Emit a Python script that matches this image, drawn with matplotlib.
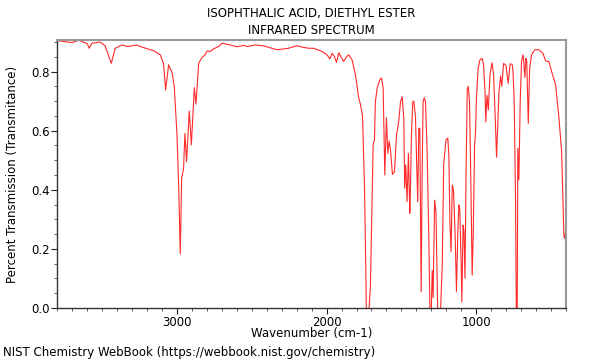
import matplotlib
matplotlib.use("Agg")
import matplotlib.pyplot as plt
from matplotlib.ticker import MultipleLocator, FormatStrFormatter

title_lines = ["ISOPHTHALIC ACID, DIETHYL ESTER", "INFRARED SPECTRUM"]
x_label = "Wavenumber (cm-1)"
y_label = "Percent Transmission (Transmitance)"
footer = "NIST Chemistry WebBook (https://webbook.nist.gov/chemistry)"

wavenumber = [
    3800, 3702, 3658, 3600, 3587, 3569, 3513, 3480, 3439, 3413, 3368, 3330, 3268, 3246,
    3179, 3157, 3112, 3090, 3076, 3056, 3033, 3018, 3000, 2989, 2978, 2969, 2956, 2947,
    2936, 2918, 2904, 2884, 2873, 2855, 2833, 2811, 2799, 2777, 2755, 2722, 2699, 2643,
    2599, 2554, 2532, 2476, 2421, 2331, 2254, 2197, 2164, 2120, 2086, 2030, 1997, 1979,
    1963, 1948, 1934, 1919, 1903, 1886, 1868, 1852, 1841, 1830, 1819, 1807, 1796, 1785,
    1774, 1760, 1747, 1738, 1734, 1718, 1707, 1696, 1689, 1680, 1674, 1662, 1645, 1633,
    1622, 1611, 1600, 1591, 1582, 1573, 1560, 1546, 1533, 1518, 1506, 1495, 1484, 1478,
    1471, 1462, 1453, 1444, 1440, 1433, 1424, 1417, 1406, 1397, 1391, 1384, 1377, 1368,
    1361, 1355, 1348, 1339, 1328, 1317, 1309, 1301, 1294, 1288, 1278, 1269, 1257, 1239,
    1227, 1217, 1201, 1190, 1183, 1176, 1168, 1160, 1152, 1141, 1132, 1123, 1116, 1110,
    1100, 1096, 1088, 1082, 1075, 1068, 1060, 1053, 1045, 1038, 1027, 1020, 1011, 1005,
    998, 987, 975, 961, 951, 941, 936, 928, 919, 908, 894, 884, 874, 864, 854, 848, 837,
    829, 817, 801, 786, 774, 760, 754, 746, 737, 732, 726, 722, 715, 706, 697, 688, 682,
    675, 668, 662, 652, 643, 630, 608, 581, 554, 536, 514, 496, 469, 447, 429, 414, 409,
    403,
]
transmittance = [
    0.905, 0.898, 0.906, 0.895, 0.879, 0.896, 0.900, 0.887, 0.828, 0.879, 0.890, 0.885, 0.890, 0.885,
    0.874, 0.871, 0.857, 0.828, 0.738, 0.823, 0.797, 0.749, 0.585, 0.416, 0.182, 0.439, 0.472, 0.591,
    0.495, 0.667, 0.552, 0.746, 0.690, 0.828, 0.848, 0.857, 0.870, 0.868, 0.877, 0.885, 0.896, 0.890,
    0.884, 0.889, 0.885, 0.890, 0.887, 0.874, 0.879, 0.888, 0.883, 0.879, 0.879, 0.868, 0.857, 0.843,
    0.862, 0.851, 0.831, 0.864, 0.849, 0.834, 0.849, 0.857, 0.848, 0.840, 0.815, 0.789, 0.750, 0.710,
    0.690, 0.650, 0.416, 0.134, -0.02, -0.02, 0.077, 0.360, 0.552, 0.568, 0.698, 0.744, 0.772, 0.778,
    0.744, 0.450, 0.644, 0.523, 0.565, 0.535, 0.452, 0.461, 0.585, 0.630, 0.698, 0.715, 0.642, 0.405,
    0.484, 0.360, 0.523, 0.320, 0.393, 0.585, 0.698, 0.700, 0.647, 0.472, 0.360, 0.608, 0.608, 0.054,
    0.472, 0.698, 0.712, 0.698, 0.529, 0.246, -0.02, -0.02, 0.127, 0.035, 0.365, 0.325, -0.02, -0.02,
    0.150, 0.490, 0.570, 0.575, 0.520, 0.297, 0.190, 0.416, 0.400, 0.250, 0.055, 0.255, 0.348, 0.335,
    0.140, 0.020, 0.280, 0.260, 0.100, 0.450, 0.740, 0.750, 0.700, 0.500, 0.111, 0.250, 0.550, 0.590,
    0.715, 0.810, 0.840, 0.845, 0.825, 0.730, 0.630, 0.720, 0.670, 0.790, 0.830, 0.790, 0.660, 0.510, 0.650, 0.730, 0.785,
    0.750, 0.828, 0.820, 0.760, 0.826, 0.825, 0.800, 0.700, 0.360, -0.02, -0.02, 0.540, 0.433, 0.698, 0.834, 0.857, 0.834,
    0.780, 0.845, 0.834, 0.625, 0.811, 0.857, 0.874, 0.874, 0.862, 0.836, 0.834, 0.800, 0.755, 0.642, 0.529, 0.246, 0.235,
    0.258,
]

fig = plt.figure(figsize=(6, 3.6), dpi=100)
ax = fig.add_axes([0.0955, 0.1447, 0.8478, 0.7442])
ax.plot(wavenumber, transmittance, color="#ff2a2a", lw=0.8)
ax.set_xlim(3800, 400)
ax.set_ylim(0, 0.907)

ax.xaxis.set_major_locator(MultipleLocator(1000))
ax.xaxis.set_minor_locator(MultipleLocator(100))
ax.yaxis.set_major_locator(MultipleLocator(0.2))
ax.yaxis.set_minor_locator(MultipleLocator(0.05))
ax.yaxis.set_major_formatter(FormatStrFormatter("%.1f"))
ax.tick_params(which="major", direction="out", length=4, width=0.8, labelsize=8.5,
               colors="#222222", pad=1.5)
ax.tick_params(which="minor", direction="out", length=2.5, width=0.6, colors="#444444")
ax.tick_params(axis="both", labelcolor="black")

for s in ["top", "right"]:
    ax.spines[s].set_color("#999999")
    ax.spines[s].set_linewidth(1.5)
for s in ["left", "bottom"]:
    ax.spines[s].set_color("#333333")
    ax.spines[s].set_linewidth(1.0)

ax.set_xlabel(x_label, fontsize=8.5, labelpad=-1)
ax.set_ylabel(y_label, fontsize=8.5, labelpad=9)
ax.set_title("\n".join(title_lines), fontsize=8.5, linespacing=1.45, pad=4)
fig.text(0.005, 0.002, footer, fontsize=8.5, ha="left", va="bottom")

fig.savefig("out.png", dpi=100)
